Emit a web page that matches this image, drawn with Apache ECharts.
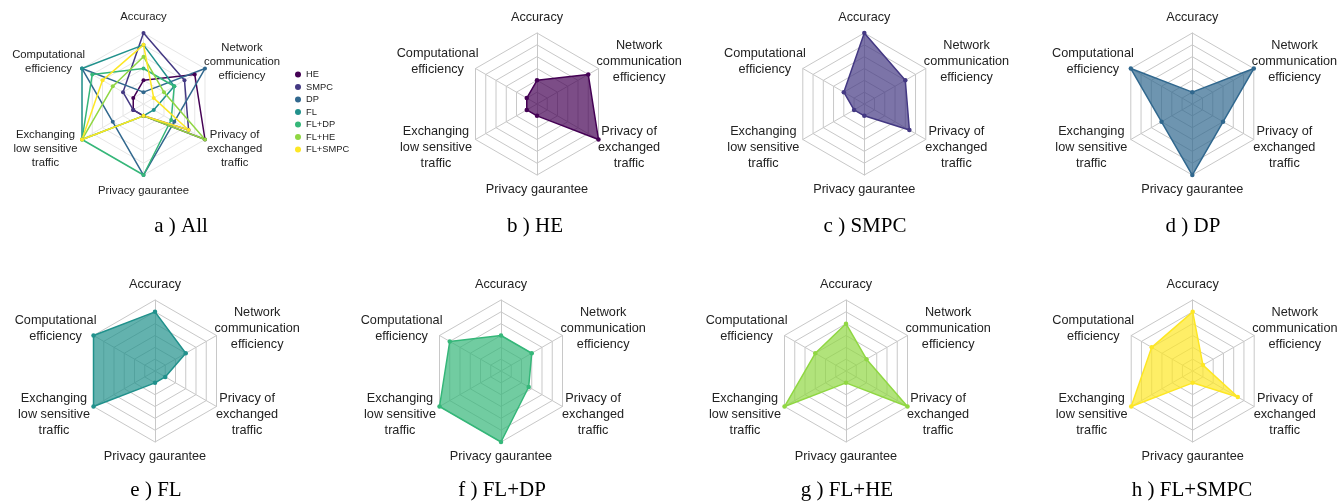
<!DOCTYPE html>
<html><head><meta charset="utf-8">
<script src="https://cdn.jsdelivr.net/npm/echarts@6/dist/echarts.min.js"></script>
<style>html,body{margin:0;padding:0;background:#fff}#c{width:1342px;height:503px}</style>
</head><body><div id="c"></div>
<script>
// ---- data ----
const indicators = ['Accuracy','Computational efficiency','Exchanging low sensitive traffic','Privacy gaurantee','Privacy of exchanged traffic','Network communication efficiency'];
const indicatorLabels = ['Accuracy','Computational\nefficiency','Exchanging\nlow sensitive\ntraffic','Privacy gaurantee','Privacy of\nexchanged\ntraffic','Network\ncommunication\nefficiency'];
const axisMax = 6;
const methods = ['HE','SMPC','DP','FL','FL+DP','FL+HE','FL+SMPC'];
const HE      = [2, 1, 1, 1, 6,   5];
const SMPC    = [6, 2, 1, 1, 4.4, 4];
const DP      = [1, 6, 3, 6, 3,   6];
const FL      = [5, 6, 6, 1, 1,   3];
const FL_DP   = [3, 5, 6, 6, 2.7, 3];
const FL_HE   = [4, 3, 6, 1, 6,   2];
const FL_SMPC = [5, 4, 6, 1, 4.4, 1];
const panelTitles = ['a ) All','b ) HE','c ) SMPC','d ) DP','e ) FL','f ) FL+DP','g ) FL+HE','h ) FL+SMPC'];

// ---- styling / layout ----
const values = [HE, SMPC, DP, FL, FL_DP, FL_HE, FL_SMPC];
const colors = ['#440154','#443983','#31688e','#21918c','#35b779','#90d743','#fde725'];
const centers = [[143.5,104],[537,104],[864.3,104],[1192.3,104],[155,371],[501,371],[846,371],[1192.7,371]];
const titlePos = [[181,226],[535,226],[865,226],[1193,226],[156,490],[502,490],[847,490],[1192,490]];
const R = 71;
const SANS = 'Liberation Sans, Arial, Helvetica, sans-serif';

function makeRich(fs, lh, sp, pad){
  const base = {align:'center', fontSize:fs, lineHeight:lh, color:'#222', fontFamily:SANS};
  return {
    c:  Object.assign({}, base),
    ur: Object.assign({}, base, {padding:[0,0,0,pad.ur]}),
    ul: Object.assign({}, base, {padding:[0,pad.ul,0,0]}),
    lr: Object.assign({}, base, {padding:[0,0,0,pad.lr]}),
    ll: Object.assign({}, base, {padding:[0,pad.ll,0,0]}),
    st: {fontSize:1, lineHeight:sp.top},
    sb: {fontSize:1, lineHeight:sp.bottom},
    su: {fontSize:1, lineHeight:sp.upper},
    sl: {fontSize:1, lineHeight:sp.lower}
  };
}
function makeFormatter(){
  return function(name){
    const i = indicators.indexOf(name);
    const tag = ['c','ul','ll','c','lr','ur'][i];
    const lines = indicatorLabels[i].split('\n').map(s => '{' + tag + '|' + s + '}').join('\n');
    if (i === 0) return lines + '\n{st| }';
    if (i === 3) return '{sb| }\n' + lines;
    if (i === 1 || i === 5) return lines + '\n{su| }';
    return '{sl| }\n' + lines;
  };
}
const richAll = makeRich(11.3, 14, {top:13.3, bottom:12.7, upper:17.6, lower:23}, {ur:2.5, ul:0.5, lr:5.5, ll:8});
const richOne = makeRich(12.7, 16, {top:11.7, bottom:10.3, upper:17.6, lower:19}, {ur:1.5, ul:0.5, lr:3, ll:7});

const radars = centers.map((c, k) => {
  const grid = k === 0 ? '#e6e6e6' : '#c8c8c8';
  return {
    center: c, radius: R, startAngle: 90, splitNumber: 6, shape: 'polygon',
    indicator: indicators.map(n => ({name: n, min: 0, max: axisMax})),
    nameGap: -4,
    axisName: {formatter: makeFormatter(), rich: k === 0 ? richAll : richOne, color:'#222', fontFamily:SANS, fontSize: k === 0 ? 11.3 : 12.7},
    splitLine: {lineStyle: {color: grid, width: 1}},
    splitArea: {show: false},
    axisLine: {lineStyle: {color: grid, width: 1}},
    axisTick: {show: false},
    axisLabel: {show: false}
  };
});

const series = [{
  type: 'radar', radarIndex: 0, z: 3,
  symbol: 'circle', symbolSize: 4,
  data: methods.map((m, i) => ({
    name: m, value: values[i],
    itemStyle: {color: colors[i]},
    lineStyle: {color: colors[i], width: 1.5}
  }))
}];
methods.forEach((m, i) => {
  series.push({
    type: 'radar', radarIndex: i + 1,
    symbol: 'circle', symbolSize: 4.5,
    data: [{
      name: m, value: values[i],
      itemStyle: {color: colors[i]},
      lineStyle: {color: colors[i], width: 1.5},
      areaStyle: {color: colors[i], opacity: 0.7}
    }]
  });
});

const graphics = panelTitles.map((t, k) => ({
  type: 'text', x: titlePos[k][0], y: titlePos[k][1],
  style: {text: t, fill:'#000', font: '21px "Liberation Serif", "Times New Roman", serif', textAlign:'center', textVerticalAlign:'middle'}
}));

const chart = echarts.init(document.getElementById('c'), null, {renderer:'canvas'});
chart.setOption({
  animation: false,
  backgroundColor: '#fff',
  legend: {
    data: methods, orient: 'vertical', left: 290, top: 65,
    icon: 'circle', itemWidth: 6, itemHeight: 6, itemGap: 3.5, itemTextGap: 5,
    selectedMode: false,
    textStyle: {fontSize: 9.3, color:'#222', fontFamily: SANS}
  },
  radar: radars,
  series: series,
  graphic: graphics
});
</script></body></html>
